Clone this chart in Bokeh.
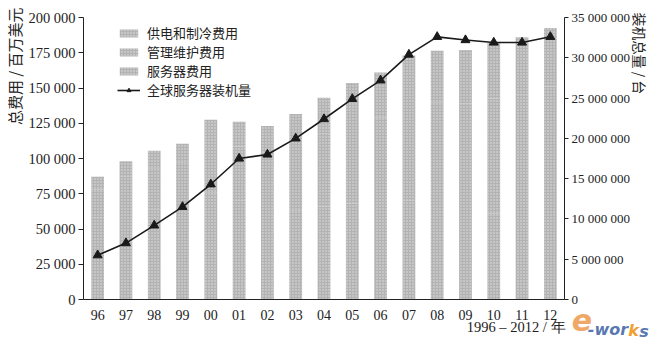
from bokeh.plotting import figure
from bokeh.models import (Range1d, LinearAxis, CategoricalAxis, FixedTicker,
                          Legend, LegendItem, FactorRange, Title)
from bokeh.embed import file_html
from bokeh.resources import INLINE

# ---- data ----
years = ["96", "97", "98", "99", "00", "01", "02", "03", "04", "05", "06",
         "07", "08", "09", "10", "11", "12"]
# cost series (million USD), stacked: server (bottom), management, power & cooling (top)
server_cost = [58000, 62000, 64000, 65000, 76000, 70000, 62000, 63000, 66000,
               68000, 67000, 70000, 67000, 62000, 61000, 60000, 60000]
mgmt_cost = [20000, 25000, 29000, 32000, 36500, 38500, 42000, 46500, 51500,
             56500, 62000, 68000, 72500, 77000, 81500, 85500, 91000]
power_cost = [9000, 11000, 12500, 13500, 15000, 17500, 19000, 22000, 25500,
              29000, 32000, 35000, 37000, 38000, 39500, 40500, 41500]
# installed base (units)
installed = [5500000, 7000000, 9200000, 11500000, 14300000, 17500000, 18000000,
             20000000, 22400000, 24900000, 27200000, 30400000, 32600000,
             32200000, 31900000, 31900000, 32600000]

left_ticks = [0, 25000, 50000, 75000, 100000, 125000, 150000, 175000, 200000]
left_labels = ["0", "25 000", "50 000", "75 000", "100 000", "125 000",
               "150 000", "175 000", "200 000"]
right_ticks = [0, 5000000, 10000000, 15000000, 20000000, 25000000, 30000000,
               35000000]
right_labels = ["0", "5 000 000", "10 000 000", "15 000 000", "20 000 000",
                "25 000 000", "30 000 000", "35 000 000"]

names = ["供电和制冷费用", "管理维护费用", "服务器费用", "全球服务器装机量"]
left_title = "总费用 / 百万美元"
right_title = "装机总量 / 台"
x_title = "1996 – 2012 / 年"
logo = ["e", "-wor", "k", "s"]
logo_colors = ["#f0a868", "#5a78b0", "#f0a030", "#5a78b0"]

SERIF = "Liberation Serif"
CJK = "Noto Sans CJK SC"
INK = "#222222"
EM, EN, THIN = "\u2003", "\u2002", "\u2009"

p = figure(width=653, height=343, output_backend="svg", toolbar_location=None,
           x_range=FactorRange(factors=years, range_padding=0),
           y_range=Range1d(0, 200000),
           min_border_left=78, min_border_right=79, min_border_top=17,
           min_border_bottom=28)
p.extra_y_ranges = {"n": Range1d(0, 35000000)}
p.outline_line_color = None
p.grid.grid_line_color = None

data = dict(x=years, server=server_cost, mgmt=mgmt_cost, power=power_cost,
            n=installed)

bars = p.vbar_stack(["server", "mgmt", "power"], x="x", width=0.45,
                    source=data, color=["#b3b3b3", "#b3b3b3", "#b3b3b3"],
                    line_color=None, hatch_pattern="dot",
                    hatch_color="#e2e2e2", hatch_scale=3, hatch_weight=1)

ln = p.line("x", "n", source=data, y_range_name="n", line_color="#1a1a1a",
            line_width=1.6)
mk = p.scatter("x", "n", source=data, y_range_name="n", marker="triangle",
               size=9, fill_color="#1a1a1a", line_color="#1a1a1a")

# x axis, with its title pushed to the right by padding
xa = p.xaxis[0]
xa.major_tick_line_color = None
xa.minor_tick_line_color = None
xa.axis_line_color = INK
xa.axis_line_width = 1.2
xa.major_label_text_font = SERIF
xa.major_label_text_font_size = "14px"
xa.major_label_text_color = INK
xa.major_label_standoff = 4
xa.axis_label = EM * 26 + EN + x_title
xa.axis_label_text_font = SERIF
xa.axis_label_text_font_size = "14.5px"
xa.axis_label_text_font_style = "normal"
xa.axis_label_text_color = INK
xa.axis_label_standoff = -4

ya = p.yaxis[0]
ya.ticker = FixedTicker(ticks=left_ticks)
ya.major_label_overrides = {t: s for t, s in zip(left_ticks, left_labels)}
ya.minor_tick_line_color = None
ya.major_tick_in = 0
ya.major_tick_out = 5
ya.axis_line_color = INK
ya.major_tick_line_color = INK
ya.major_label_text_font = SERIF
ya.major_label_text_font_size = "14.5px"
ya.major_label_text_color = INK
ya.major_label_standoff = 3

ra = LinearAxis(y_range_name="n", ticker=FixedTicker(ticks=right_ticks))
ra.major_label_overrides = {t: s for t, s in zip(right_ticks, right_labels)}
ra.minor_tick_line_color = None
ra.major_tick_in = 0
ra.major_tick_out = 4
ra.axis_line_color = INK
ra.major_tick_line_color = INK
ra.major_label_text_font = SERIF
ra.major_label_text_font_size = "13px"
ra.major_label_text_color = INK
ra.major_label_standoff = 3
ra.axis_label = right_title + EM * 15
ra.axis_label_text_font = CJK
ra.axis_label_text_font_size = "14px"
ra.axis_label_text_font_style = "normal"
ra.axis_label_text_color = INK
ra.axis_label_standoff = -3
p.add_layout(ra, "right")

# left title
p.add_layout(Title(text=left_title, align="right", offset=-10, standoff=2,
                   text_font=CJK, text_font_size="15px",
                   text_font_style="normal", text_color=INK), "left")

# e-works logo: labels of bare category axes, moved right by padding, pulled up
logo_pad = [EM * 17 + THIN, EM * 35 + EN, EM * 38 + EN + THIN, EM * 40]
logo_sizes = ["30px", "16px", "16px", "16px"]
logo_standoff = [-35, -21, -21, -21]
for txt, col, pad, fs, so in zip(logo, logo_colors, logo_pad, logo_sizes,
                                 logo_standoff):
    la = CategoricalAxis()
    la.axis_line_color = None
    la.major_tick_line_color = None
    la.minor_tick_line_color = None
    la.major_tick_out = 0
    la.minor_tick_out = 0
    la.major_label_standoff = 0
    la.major_label_text_font_size = "0px"
    la.major_label_text_alpha = 0
    la.axis_label = pad + txt
    la.axis_label_text_font = "DejaVu Sans"
    la.axis_label_text_font_style = "bold italic"
    la.axis_label_text_font_size = fs
    la.axis_label_text_color = col
    la.axis_label_standoff = so
    p.add_layout(la, "below")

# legend
items = [LegendItem(label=names[0], renderers=[bars[2]]),
         LegendItem(label=names[1], renderers=[bars[1]]),
         LegendItem(label=names[2], renderers=[bars[0]]),
         LegendItem(label=names[3], renderers=[ln, mk])]
leg = Legend(items=items, location=(34, 200), margin=0, padding=0,
             spacing=0, label_height=19, glyph_height=10, glyph_width=23,
             label_standoff=7, background_fill_alpha=0, border_line_color=None,
             label_text_font=CJK, label_text_font_size="13px",
             label_text_color=INK)
p.add_layout(leg)

open("out.html", "w").write(file_html(p, INLINE))
